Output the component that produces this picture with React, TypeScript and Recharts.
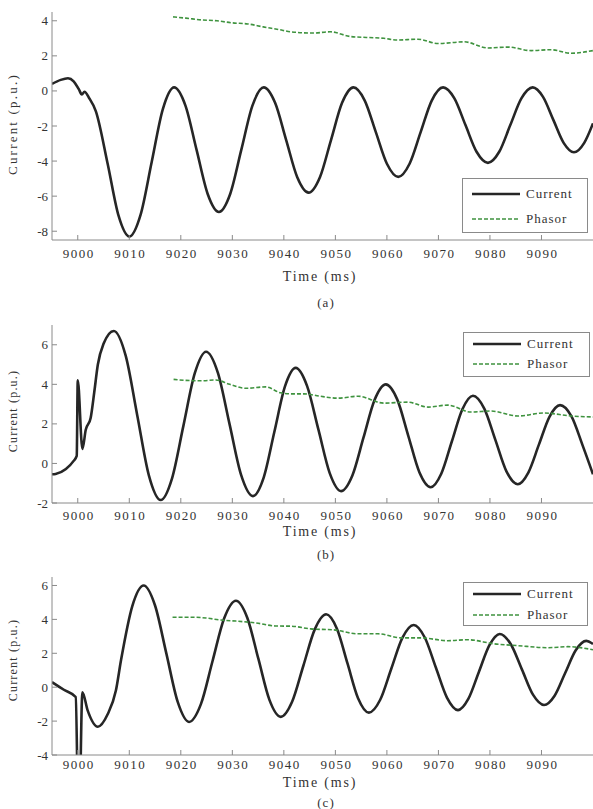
import React from 'react';
import { LineChart, Line, XAxis, YAxis, Legend } from 'recharts';

const FONT = "'Liberation Serif', serif";
const CURRENT_COLOR = '#262626';
const PHASOR_COLOR = '#3f933f';
const AXIS_COLOR = '#8a8a8a';
const TEXT_COLOR = '#333333';

// ---------- data ----------
const timeTicks = [9000, 9010, 9020, 9030, 9040, 9050, 9060, 9070, 9080, 9090];
const timeDomain: [number, number] = [8995, 9100];

const yTicksA = [-8, -6, -4, -2, 0, 2, 4];
const yTicksB = [-2, 0, 2, 4, 6];
const yTicksC = [-4, -2, 0, 2, 4, 6];

const currentA: [number, number][] = [
  [8995, 0.4], [8996.7, 0.63], [8998.1, 0.72], [8999.2, 0.55], [9000.2, 0.1], [9000.8, -0.2],
  [9001.3, -0.05], [9002.2, -0.4], [9003.5, -1.15], [9005.8, -4.15], [9007.9, -7.1], [9010, -8.3],
  [9012.2, -7.05], [9014.35, -4.05], [9016.5, -1.05], [9018.7, 0.2], [9020.9, -0.84], [9023.05, -3.35],
  [9025.2, -5.86], [9027.4, -6.9], [9029.6, -5.86], [9031.75, -3.35], [9033.9, -0.84], [9036.1, 0.2],
  [9038.3, -0.68], [9040.45, -2.8], [9042.6, -4.92], [9044.8, -5.8], [9047, -4.92], [9049.15, -2.8],
  [9051.3, -0.68], [9053.5, 0.2], [9055.7, -0.55], [9057.85, -2.35], [9060, -4.15], [9062.2, -4.9],
  [9064.4, -4.15], [9066.55, -2.35], [9068.7, -0.55], [9070.9, 0.2], [9073.1, -0.43], [9075.25, -1.95],
  [9077.4, -3.47], [9079.6, -4.1], [9081.8, -3.47], [9083.95, -1.95], [9086.1, -0.43], [9088.3, 0.2],
  [9090.3, -0.34], [9092.3, -1.65], [9094.3, -2.96], [9096.3, -3.5], [9098.3, -2.96], [9100, -1.85],
];
const phasorA: [number, number][] = [
  [9018.5, 4.22], [9021, 4.15], [9024, 4.05], [9027, 4.0], [9030, 3.88], [9033, 3.82], [9036, 3.65],
  [9039, 3.5], [9041.4, 3.37], [9045.6, 3.3], [9049, 3.37], [9053, 3.1], [9056, 3.05], [9059.4, 3.0],
  [9062, 2.9], [9066, 2.95], [9070, 2.7], [9075, 2.8], [9079.6, 2.45], [9083.5, 2.5], [9088, 2.3],
  [9091.8, 2.35], [9095.7, 2.15], [9100, 2.3],
];

const currentB: [number, number][] = [
  [8995, -0.55], [8995.7, -0.53], [8997.7, -0.28], [8999.2, 0.13], [8999.8, 0.38], [9000.0, 4.2],
  [9000.9, 0.73], [9001.55, 1.7], [9002.5, 2.3], [9003.2, 3.6], [9003.9, 5.0], [9005, 6.05], [9007, 6.7],
  [9009.3, 5.45], [9011.55, 2.43], [9013.8, -0.6], [9016.1, -1.85], [9018.3, -0.75], [9020.5, 1.9],
  [9022.7, 4.55], [9024.9, 5.65], [9027.2, 4.58], [9029.45, 2.0], [9031.7, -0.58], [9034, -1.65],
  [9036.1, -0.7], [9038.15, 1.59], [9040.2, 3.88], [9042.3, 4.83], [9044.5, 3.92], [9046.7, 1.72],
  [9048.9, -0.49], [9051.1, -1.4], [9053.3, -0.61], [9055.45, 1.3], [9057.6, 3.21], [9059.8, 4.0],
  [9062, 3.24], [9064.15, 1.4], [9066.3, -0.44], [9068.5, -1.2], [9070.55, -0.52], [9072.6, 1.11],
  [9074.65, 2.74], [9076.7, 3.42], [9078.9, 2.77], [9081.05, 1.19], [9083.2, -0.4], [9085.4, -1.05],
  [9087.45, -0.46], [9089.5, 0.95], [9091.55, 2.36], [9093.6, 2.95], [9095.8, 2.39], [9098, 0.9],
  [9100, -0.55],
];
const phasorB: [number, number][] = [
  [9018.6, 4.25], [9021, 4.2], [9023.9, 4.18], [9026.8, 4.22], [9029.5, 4.0], [9032.6, 3.8],
  [9036.5, 3.87], [9039.4, 3.57], [9041.4, 3.52], [9043.9, 3.52], [9047, 3.4], [9050.5, 3.3],
  [9054.4, 3.4], [9059.4, 3.05], [9064, 3.1], [9068, 2.85], [9071.8, 2.95], [9076.3, 2.6],
  [9080.2, 2.65], [9085.4, 2.4], [9090.5, 2.55], [9095.7, 2.4], [9100, 2.35],
];

const currentC: [number, number][] = [
  [8995, 0.3], [8997.3, -0.15], [8999.6, -0.58], [9000.2, -9], [9000.9, -0.3], [9001.9, -1.35],
  [9003.9, -2.33], [9005.8, -1.6], [9007.4, -0.2], [9008.4, 1.6], [9010.6, 4.8], [9012.8, 6.0],
  [9015, 4.82], [9017.2, 1.98], [9019.4, -0.87], [9021.6, -2.05], [9023.9, -1.0], [9026.15, 1.53],
  [9028.4, 4.05], [9030.7, 5.1], [9032.9, 4.1], [9035.05, 1.68], [9037.2, -0.75], [9039.4, -1.75],
  [9041.6, -0.86], [9043.8, 1.28], [9046, 3.41], [9048.2, 4.3], [9050.3, 3.45], [9052.35, 1.4],
  [9054.4, -0.65], [9056.5, -1.5], [9058.7, -0.74], [9060.85, 1.09], [9063, 2.91], [9065.2, 3.67],
  [9067.35, 2.93], [9069.5, 1.16], [9071.65, -0.61], [9073.8, -1.35], [9075.8, -0.69], [9077.85, 0.9],
  [9079.9, 2.48], [9081.9, 3.14], [9084.05, 2.53], [9086.2, 1.05], [9088.35, -0.44], [9090.5, -1.05],
  [9092.55, -0.5], [9094.6, 0.84], [9096.65, 2.18], [9098.7, 2.73], [9100, 2.55],
];
const phasorC: [number, number][] = [
  [9018.4, 4.13], [9022, 4.13], [9024.9, 4.08], [9027.8, 3.96], [9030.7, 3.9], [9034.6, 3.79],
  [9038.4, 3.61], [9041.4, 3.6], [9045.2, 3.44], [9049.7, 3.38], [9054.4, 3.15], [9058.3, 3.15],
  [9062.7, 2.91], [9066.6, 2.91], [9071.8, 2.74], [9075.7, 2.8], [9080.8, 2.56], [9085.4, 2.45],
  [9091.3, 2.33], [9095.1, 2.39], [9100, 2.21],
];

const toPoints = (arr: [number, number][]) => arr.map(([t, v]) => ({ t, v }));

// ---------- layout ----------
type PanelCfg = {
  caption: string;
  current: [number, number][];
  phasor: [number, number][];
  yDomain: [number, number];
  yTicks: number[];
  top: number;
  height: number;
  marginTop: number;
  tickBaseline: number;
  legend: { left: number; top: number; width: number; height: number; rows: [number, number] };
  yTitle: { cy: number; fontSize: number; spacing: number };
  timeY: number;
  capY: number;
};

const panels: PanelCfg[] = [
  {
    caption: '(a)', current: currentA, phasor: phasorA, yDomain: [-8.5, 4.5], yTicks: yTicksA,
    top: 0, height: 262, marginTop: 12, tickBaseline: 18,
    legend: { left: 462, top: 178, width: 126, height: 55, rows: [15, 40] },
    yTitle: { cy: 124, fontSize: 13, spacing: 2.2 }, timeY: 277, capY: 303,
  },
  {
    caption: '(b)', current: currentB, phasor: phasorB, yDomain: [-2, 7], yTicks: yTicksB,
    top: 300, height: 225, marginTop: 25, tickBaseline: 17,
    legend: { left: 463, top: 32, width: 127, height: 45, rows: [11, 31] },
    yTitle: { cy: 411, fontSize: 12, spacing: 1.2 }, timeY: 532, capY: 555,
  },
  {
    caption: '(c)', current: currentC, phasor: phasorC, yDomain: [-4, 6.5], yTicks: yTicksC,
    top: 560, height: 217, marginTop: 17, tickBaseline: 14,
    legend: { left: 463, top: 22, width: 125, height: 44, rows: [11, 32] },
    yTitle: { cy: 660, fontSize: 12, spacing: 1.2 }, timeY: 783, capY: 803,
  },
];

const makeXTick = (baseline: number) => (props: any) => {
  const { x, y, payload } = props;
  return (
    <g>
      <line x1={x} x2={x} y1={y} y2={y - 5} stroke={AXIS_COLOR} strokeWidth={1} />
      <text x={x + 1} y={y + baseline} textAnchor="middle" fontFamily={FONT} fontSize={13}
        letterSpacing={1.5} fill={TEXT_COLOR}>{payload.value}</text>
    </g>
  );
};

const YTick = (props: any) => {
  const { x, y, payload } = props;
  return (
    <g>
      <line x1={x} x2={x + 5} y1={y} y2={y} stroke={AXIS_COLOR} strokeWidth={1} />
      <text x={x - 4} y={y} dy={4.5} textAnchor="end" fontFamily={FONT} fontSize={13}
        fill={TEXT_COLOR}>{payload.value}</text>
    </g>
  );
};

const LegendBox = ({ payload, cfg }: any) => {
  const items = payload || [];
  return (
    <div style={{
      position: 'relative', boxSizing: 'border-box', width: cfg.width, height: cfg.height,
      border: `1px solid ${AXIS_COLOR}`, background: '#fff',
    }}>
      {items.map((it: any, i: number) => {
        const dashed = it.value === 'Phasor';
        return (
          <div key={i} style={{ position: 'absolute', left: 9, top: cfg.rows[i] - 8, height: 16, display: 'flex', alignItems: 'center' }}>
            <svg width={50} height={16} style={{ display: 'block' }}>
              <line x1={0} x2={48} y1={8} y2={8} stroke={dashed ? PHASOR_COLOR : CURRENT_COLOR}
                strokeWidth={dashed ? 1.6 : 2.4} strokeDasharray={dashed ? '4 2' : undefined} />
            </svg>
            <span style={{ marginLeft: 4, fontFamily: FONT, fontSize: 13, letterSpacing: 1, color: TEXT_COLOR, lineHeight: '16px' }}>{it.value}</span>
          </div>
        );
      })}
    </div>
  );
};

const Panel = ({ cfg }: { cfg: PanelCfg }) => (
  <>
    <div style={{ position: 'absolute', left: 0, top: cfg.top, width: 593, height: cfg.height }}>
      <LineChart width={593} height={cfg.height} margin={{ top: cfg.marginTop, right: 0, left: 0, bottom: 0 }}>
        <XAxis dataKey="t" type="number" domain={timeDomain} ticks={timeTicks} allowDataOverflow
          height={22} tickSize={0} tickMargin={0} tickLine={false}
          axisLine={{ stroke: AXIS_COLOR, strokeWidth: 1 }} tick={makeXTick(cfg.tickBaseline)} interval={0} />
        <YAxis type="number" domain={cfg.yDomain} ticks={cfg.yTicks} allowDataOverflow width={52}
          tickSize={0} tickMargin={0} tickLine={false} axisLine={{ stroke: AXIS_COLOR, strokeWidth: 1 }}
          tick={YTick} interval={0} />
        <Legend layout="vertical" align="center" verticalAlign="middle"
          wrapperStyle={{ left: cfg.legend.left, top: cfg.legend.top, width: cfg.legend.width, height: cfg.legend.height }}
          content={(p: any) => <LegendBox payload={p.payload} cfg={cfg.legend} />} />
        <Line data={toPoints(cfg.current)} dataKey="v" name="Current" type="monotone" stroke={CURRENT_COLOR}
          strokeWidth={2.6} dot={false} activeDot={false} isAnimationActive={false} />
        <Line data={toPoints(cfg.phasor)} dataKey="v" name="Phasor" type="monotone" stroke={PHASOR_COLOR}
          strokeWidth={1.6} strokeDasharray="4 2" dot={false} activeDot={false} isAnimationActive={false} />
      </LineChart>
    </div>
    <div style={{
      position: 'absolute', left: 13 - 100, top: cfg.yTitle.cy - 10, width: 200, height: 20,
      transform: 'rotate(-90deg)', textAlign: 'center', lineHeight: '20px', fontFamily: FONT,
      fontSize: cfg.yTitle.fontSize, letterSpacing: cfg.yTitle.spacing, color: TEXT_COLOR,
    }}>Current (p.u.)</div>
    <div style={{
      position: 'absolute', left: 220, top: cfg.timeY - 10, width: 200, height: 20, textAlign: 'center',
      lineHeight: '20px', fontFamily: FONT, fontSize: 14, letterSpacing: 1.8, color: TEXT_COLOR,
    }}>Time (ms)</div>
    <div style={{
      position: 'absolute', left: 226, top: cfg.capY - 10, width: 200, height: 20, textAlign: 'center',
      lineHeight: '20px', fontFamily: FONT, fontSize: 13, letterSpacing: 1, color: TEXT_COLOR,
    }}>{cfg.caption}</div>
  </>
);

export default function App() {
  return (
    <div style={{ position: 'absolute', left: 0, top: 0, width: 593, height: 809, background: '#fff', overflow: 'hidden' }}>
      {panels.map((p) => <Panel key={p.caption} cfg={p} />)}
    </div>
  );
}
